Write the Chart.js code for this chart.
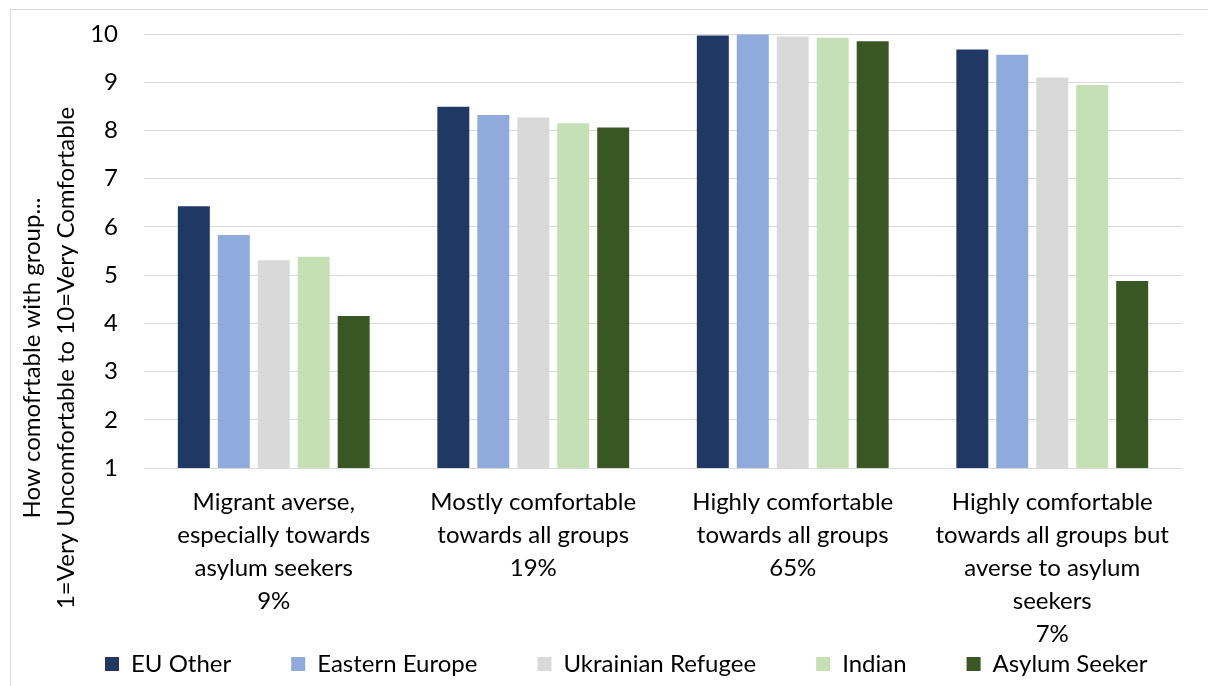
<!DOCTYPE html>
<html>
<head>
<meta charset="utf-8">
<script src="https://cdn.jsdelivr.net/npm/chart.js@4/dist/chart.umd.min.js"></script>
<style>
  html, body { margin: 0; padding: 0; background: #ffffff; }
  #wrap { width: 1208px; height: 686px; position: relative; }
</style>
</head>
<body>
<div id="wrap"><canvas id="chart" width="1208" height="686"></canvas></div>
<script>
// Segment labels (with share of respondents on the last line)
const categories = [
  ['Migrant averse,', 'especially towards', 'asylum seekers', '9%'],
  ['Mostly comfortable', 'towards all groups', '19%'],
  ['Highly comfortable', 'towards all groups', '65%'],
  ['Highly comfortable', 'towards all groups but', 'averse to asylum', 'seekers', '7%']
];

// Mean comfort score per group (1-10 scale)
const seriesNames = ['EU Other', 'Eastern Europe', 'Ukrainian Refugee', 'Indian', 'Asylum Seeker'];
const euOther          = [6.43, 8.49, 9.97, 9.68];
const easternEurope    = [5.83, 8.32, 9.99, 9.57];
const ukrainianRefugee = [5.31, 8.27, 9.95, 9.10];
const indian           = [5.38, 8.15, 9.92, 8.94];
const asylumSeeker     = [4.15, 8.06, 9.85, 4.88];

const yTickValues = [1, 2, 3, 4, 5, 6, 7, 8, 9, 10];
const yTitle = ['How comofrtable with group...', '1=Very Uncomfortable to 10=Very Comfortable'];

const seriesValues = [euOther, easternEurope, ukrainianRefugee, indian, asylumSeeker];
const seriesColors = ['#203864', '#8FAADC', '#D9D9D9', '#C5E0B4', '#385723'];

const FONT = "Lato, 'Noto Sans', sans-serif";
const LEGEND_GAP = 60;
const PAD_LEFT = 105 - LEGEND_GAP;   // first legend swatch lands at x = 105

// Light frame around the whole chart
const framePlugin = {
  id: 'frame',
  beforeDraw(chart) {
    const ctx = chart.ctx;
    ctx.save();
    ctx.fillStyle = '#ffffff';
    ctx.fillRect(0, 0, chart.width, chart.height);
    ctx.strokeStyle = '#D9D9D9';
    ctx.lineWidth = 1;
    ctx.strokeRect(10.5, 9.5, chart.width + 10, chart.height + 10);
    ctx.restore();
  }
};

// Two-line rotated value-axis title, centred lower than the plot's midpoint
const axisTitlePlugin = {
  id: 'axisTitle',
  afterDraw(chart) {
    const ctx = chart.ctx;
    const centreY = 358;
    const firstLineX = 32;
    const lineStep = 34.5;
    ctx.save();
    ctx.translate(0, centreY);
    ctx.rotate(-Math.PI / 2);
    ctx.font = '24px ' + FONT;
    ctx.fillStyle = '#000000';
    ctx.textAlign = 'center';
    ctx.textBaseline = 'middle';
    yTitle.forEach((line, i) => ctx.fillText(line, 0, firstLineX + i * lineStep));
    ctx.restore();
  }
};

new Chart(document.getElementById('chart'), {
  type: 'bar',
  data: {
    labels: categories,
    datasets: seriesNames.map((name, i) => ({
      label: name,
      data: seriesValues[i],
      backgroundColor: seriesColors[i],
      borderWidth: 0,
      categoryPercentage: 0.77,
      barPercentage: 0.8,
      yAxisID: 'y'
    }))
  },
  options: {
    responsive: false,
    devicePixelRatio: 1,
    animation: false,
    layout: { padding: { top: 34, right: 0, bottom: 0, left: PAD_LEFT } },
    plugins: {
      legend: {
        position: 'bottom',
        align: 'start',
        labels: {
          boxWidth: 14,
          boxHeight: 14,
          padding: LEGEND_GAP,
          color: '#000000',
          font: { family: FONT, size: 24 }
        }
      },
      tooltip: { enabled: false }
    },
    scales: {
      x: {
        grid: { display: false },
        border: { display: false },
        ticks: {
          color: '#000000',
          font: { family: FONT, size: 24, lineHeight: 1.375 },
          mirror: true,
          padding: -51,
          maxRotation: 0,
          autoSkip: false
        },
        afterFit(scale) { scale.height = 124; }
      },
      y: {
        min: 1,
        max: 10,
        afterBuildTicks(scale) { scale.ticks = yTickValues.map(v => ({ value: v })); },
        grid: { color: '#D9D9D9', lineWidth: 1, drawTicks: true, tickLength: 20, tickColor: 'rgba(0,0,0,0)' },
        border: { display: false },
        ticks: {
          color: '#000000',
          font: { family: FONT, size: 24 },
          padding: 6
        },
        title: { display: false },
        afterFit(scale) { scale.width = 144 - PAD_LEFT; }
      },
      // empty right-hand spacer that keeps the plot clear of the frame edge
      yRight: {
        axis: 'y',
        position: 'right',
        grid: { display: false },
        border: { display: false },
        ticks: { display: false },
        afterFit(scale) { scale.width = 26; }
      }
    }
  },
  plugins: [framePlugin, axisTitlePlugin]
});
</script>
</body>
</html>
